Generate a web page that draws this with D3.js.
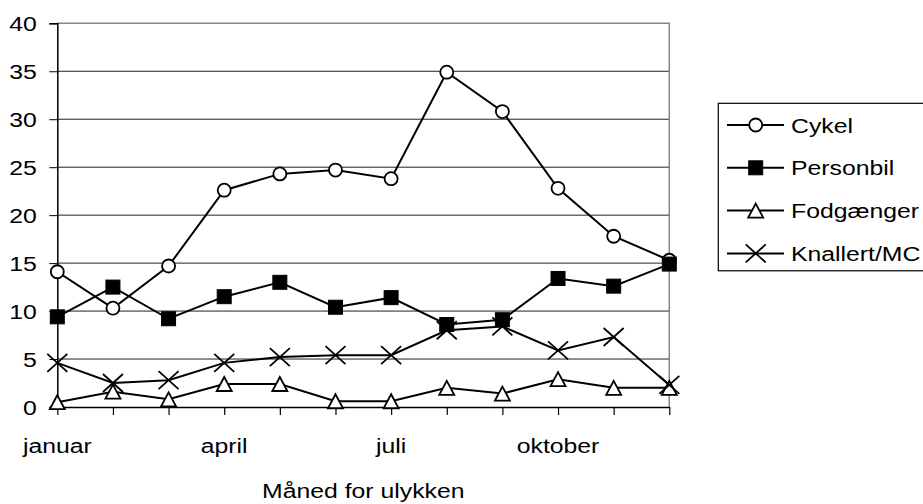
<!DOCTYPE html>
<html>
<head>
<meta charset="utf-8">
<script src="https://cdn.jsdelivr.net/npm/d3@7"></script>
<style>
  body { margin: 0; background: #fff; }
  svg { display: block; }
  text { font-family: Arial, "Liberation Sans", sans-serif; fill: #000; }
</style>
</head>
<body>
<svg id="chart" width="923" height="504"></svg>
<script>
// months on the x axis
var months = ["januar", "februar", "marts", "april", "maj", "juni",
  "juli", "august", "september", "oktober", "november", "december"];

// series
var cykel = [14.1, 10.3, 14.7, 22.6, 24.3, 24.7, 23.8, 34.9, 30.8, 22.8, 17.8, 15.3];
var personbil = [9.4, 12.5, 9.2, 11.5, 13.0, 10.4, 11.4, 8.6, 9.1, 13.4, 12.6, 14.9];
var fodgaenger = [0.5, 1.6, 0.8, 2.4, 2.4, 0.6, 0.6, 2.0, 1.4, 2.9, 2.0, 2.0];
var knallert = [4.6, 2.5, 2.8, 4.6, 5.2, 5.4, 5.4, 8.0, 8.4, 5.9, 7.3, 2.3];

var seriesNames = ["Cykel", "Personbil", "Fodgænger", "Knallert/MC"];
var seriesMarks = ["circle", "square", "triangle", "cross"];
var yTicks = [0, 5, 10, 15, 20, 25, 30, 35, 40];
var xTitle = "Måned for ulykken";

(function draw() {
  "use strict";

  var svg = d3.select("#chart");
  var left = 57.3, right = 669.3, top = 23.3, bottom = 407;
  var fontSize = 21, stretch = 1.18;

  var x = d3.scalePoint().domain(months).range([left, right]).padding(0);
  var y = d3.scaleLinear().domain([0, 40]).range([bottom, top]);

  // stretched text, like the original rendering
  function label(g, tx, ty, str, anchor) {
    return g.append("text")
      .attr("transform", "translate(" + tx + "," + ty + ") scale(" + stretch + ",1)")
      .attr("text-anchor", anchor || "start")
      .style("font-size", fontSize + "px")
      .text(str);
  }

  // gridlines
  svg.append("g").selectAll("line")
    .data(yTicks.filter(function(d) { return d > 0 && d < 40; }))
    .enter().append("line")
    .attr("x1", left).attr("x2", right)
    .attr("y1", function(d) { return y(d); })
    .attr("y2", function(d) { return y(d); })
    .attr("stroke", "#222").attr("stroke-width", 1);

  // plot area frame (top + right are grey)
  svg.append("path")
    .attr("d", "M" + left + "," + y(40) + "H" + right + "V" + bottom)
    .attr("fill", "none").attr("stroke", "#858585").attr("stroke-width", 1.5);

  // y axis
  var gy = svg.append("g")
    .attr("transform", "translate(" + left + ",0)")
    .call(d3.axisLeft(y).tickValues(yTicks).tickSize(8).tickFormat(""));
  gy.select(".domain").attr("stroke", "#000").attr("stroke-width", 1.5);
  gy.selectAll(".tick line").attr("stroke", "#000").attr("stroke-width", 1);
  yTicks.forEach(function(d) {
    label(svg, 36.7, y(d) + 7.5, d, "end");
  });

  // x axis
  var gx = svg.append("g")
    .attr("transform", "translate(0," + bottom + ")")
    .call(d3.axisBottom(x).tickSize(8).tickSizeOuter(0).tickFormat(""));
  gx.select(".domain").attr("stroke", "#000").attr("stroke-width", 1.5);
  gx.selectAll(".tick line").attr("stroke", "#000").attr("stroke-width", 1.2);
  months.forEach(function(m, i) {
    if (i % 3 === 0) label(svg, x(m), 453, m, "middle");
  });

  label(svg, (left + right) / 2, 498, xTitle, "middle");

  // marker shapes
  function marker(g, kind, cx, cy) {
    if (kind === "circle") {
      g.append("circle").attr("cx", cx).attr("cy", cy).attr("r", 6.5)
        .attr("fill", "#fff").attr("stroke", "#000").attr("stroke-width", 1.8);
    } else if (kind === "square") {
      g.append("rect").attr("x", cx - 7).attr("y", cy - 7)
        .attr("width", 14).attr("height", 14)
        .attr("fill", "#000").attr("stroke", "#000").attr("stroke-width", 1);
    } else if (kind === "triangle") {
      g.append("path")
        .attr("d", "M" + cx + "," + (cy - 7) + "L" + (cx + 7.5) + "," + (cy + 7) +
          "L" + (cx - 7.5) + "," + (cy + 7) + "Z")
        .attr("fill", "#fff").attr("stroke", "#000").attr("stroke-width", 1.8);
    } else {
      g.append("path")
        .attr("d", "M" + (cx - 10) + "," + (cy - 9) + "L" + (cx + 10) + "," + (cy + 9) +
          "M" + (cx - 10) + "," + (cy + 9) + "L" + (cx + 10) + "," + (cy - 9))
        .attr("fill", "none").attr("stroke", "#000").attr("stroke-width", 1.8);
    }
  }

  var line = d3.line()
    .x(function(d, i) { return x(months[i]); })
    .y(function(d) { return y(d); });

  var allSeries = [cykel, personbil, fodgaenger, knallert];

  allSeries.forEach(function(values, s) {
    var g = svg.append("g");
    g.append("path")
      .attr("d", line(values))
      .attr("fill", "none").attr("stroke", "#000").attr("stroke-width", 2);
    values.forEach(function(v, i) {
      marker(g, seriesMarks[s], x(months[i]), y(v));
    });
  });

  // legend
  var lg = svg.append("g");
  lg.append("rect")
    .attr("x", 718.3).attr("y", 103.3).attr("width", 240).attr("height", 167.5)
    .attr("fill", "#fff").attr("stroke", "#000").attr("stroke-width", 1.2);
  seriesNames.forEach(function(name, i) {
    var cy = 125 + i * 42.8;
    lg.append("line").attr("x1", 727).attr("x2", 784)
      .attr("y1", cy).attr("y2", cy)
      .attr("stroke", "#000").attr("stroke-width", 2);
    marker(lg, seriesMarks[i], 755.7, cy);
    label(lg, 791, cy + 7.5, name, "start");
  });
})();
</script>
</body>
</html>
